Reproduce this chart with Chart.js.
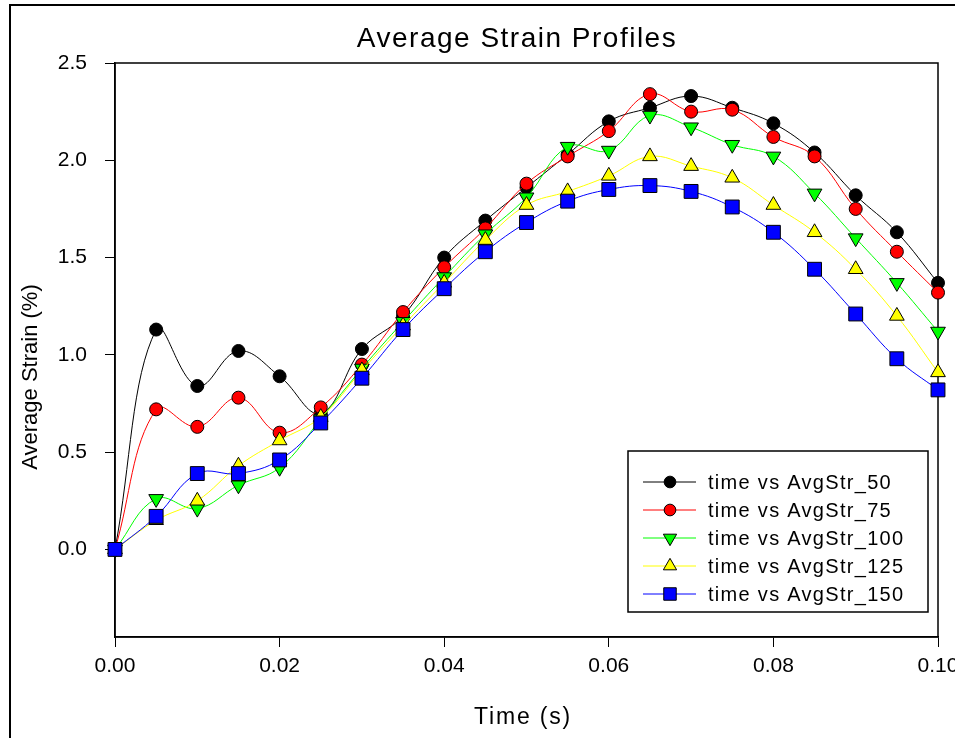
<!DOCTYPE html>
<html>
<head>
<meta charset="utf-8">
<script src="https://cdn.jsdelivr.net/npm/chart.js@4/dist/chart.umd.min.js"></script>
<style>
  html, body { margin: 0; padding: 0; background: #fff; }
  canvas { display: block; }
</style>
</head>
<body>
<canvas id="chart" width="955" height="738"></canvas>
<script>
// time (s)
const times = [0, 0.005, 0.01, 0.015, 0.02, 0.025, 0.03, 0.035, 0.04, 0.045, 0.05,
               0.055, 0.06, 0.065, 0.07, 0.075, 0.08, 0.085, 0.09, 0.095, 0.1];
// average strain (%) per series
const avgStr50  = [0, 1.13, 0.84, 1.02, 0.89, 0.70, 1.03, 1.20, 1.50, 1.69, 1.86, 2.03, 2.20, 2.27, 2.33, 2.27, 2.19, 2.04, 1.82, 1.63, 1.37];
const avgStr75  = [0, 0.72, 0.63, 0.78, 0.60, 0.73, 0.95, 1.22, 1.45, 1.65, 1.88, 2.02, 2.15, 2.34, 2.25, 2.26, 2.12, 2.02, 1.75, 1.53, 1.32];
const avgStr100 = [0, 0.26, 0.21, 0.33, 0.42, 0.67, 0.93, 1.17, 1.40, 1.62, 1.81, 2.07, 2.05, 2.23, 2.17, 2.08, 2.02, 1.83, 1.60, 1.37, 1.12];
const avgStr125 = [0, 0.15, 0.25, 0.43, 0.56, 0.68, 0.92, 1.15, 1.37, 1.59, 1.77, 1.84, 1.92, 2.02, 1.97, 1.91, 1.77, 1.63, 1.44, 1.20, 0.91];
const avgStr150 = [0, 0.17, 0.39, 0.39, 0.46, 0.65, 0.88, 1.13, 1.34, 1.53, 1.68, 1.79, 1.85, 1.87, 1.84, 1.76, 1.63, 1.44, 1.21, 0.98, 0.82];

const seriesNames = ['time vs AvgStr_50', 'time vs AvgStr_75', 'time vs AvgStr_100', 'time vs AvgStr_125', 'time vs AvgStr_150'];
const seriesData = [avgStr50, avgStr75, avgStr100, avgStr125, avgStr150];
const xTicks = [0, 0.02, 0.04, 0.06, 0.08, 0.1];
const yTicks = [0, 0.5, 1.0, 1.5, 2.0, 2.5];

const colors = ['#000000', '#ff0000', '#00ff00', '#ffff00', '#0000ff'];
const markers = [
  { style: 'circle', radius: 6.5, rotation: 0 },
  { style: 'circle', radius: 6.5, rotation: 0 },
  { style: 'triangle', radius: 8.5, rotation: 180 },
  { style: 'triangle', radius: 8.5, rotation: 0 },
  { style: 'rect', radius: 9.8, rotation: 0 }
];

const FONT = '"Liberation Sans", Arial, sans-serif';

const datasets = seriesData.map((vals, i) => ({
  label: seriesNames[i],
  data: vals.map((v, j) => ({ x: times[j], y: v })),
  borderColor: colors[i],
  backgroundColor: colors[i],
  borderWidth: 1,
  tension: 0.4,
  pointStyle: markers[i].style,
  pointRadius: markers[i].radius,
  pointRotation: markers[i].rotation,
  pointBackgroundColor: colors[i],
  pointBorderColor: '#000',
  pointBorderWidth: 1,
  order: 4 - i,
  clip: false
}));

function spacedText(ctx, text, x, y, spacing) {
  ctx.letterSpacing = spacing + 'px';
  ctx.fillText(text, x, y);
  ctx.letterSpacing = '0px';
}

const decor = {
  id: 'decor',
  beforeDatasetsDraw(chart) {
    const { ctx, chartArea: a } = chart;
    ctx.save();
    ctx.strokeStyle = '#000';
    ctx.lineWidth = 1.5;
    ctx.strokeRect(a.left, a.top, a.right - a.left, a.bottom - a.top);
    ctx.restore();
  },
  afterDraw(chart) {
    const { ctx } = chart;
    ctx.save();
    // outer frame (left and top edges visible)
    ctx.strokeStyle = '#000';
    ctx.lineWidth = 2;
    ctx.beginPath();
    ctx.moveTo(10, 738);
    ctx.lineTo(10, 5);
    ctx.lineTo(955, 5);
    ctx.stroke();

    ctx.fillStyle = '#000';
    ctx.textBaseline = 'alphabetic';
    ctx.textAlign = 'center';
    ctx.font = '28px ' + FONT;
    spacedText(ctx, 'Average Strain Profiles', 517, 47, 1.5);

    ctx.font = '23px ' + FONT;
    spacedText(ctx, 'Time (s)', 523, 724, 1.8);

    ctx.save();
    ctx.translate(37, 377);
    ctx.rotate(-Math.PI / 2);
    ctx.font = '22px ' + FONT;
    spacedText(ctx, 'Average Strain (%)', 0, 0, 0);
    ctx.restore();

    // legend
    const lx = 628, ly = 451, lw = 300, lh = 161;
    ctx.fillStyle = '#fff';
    ctx.fillRect(lx, ly, lw, lh);
    ctx.strokeStyle = '#000';
    ctx.lineWidth = 1.5;
    ctx.strokeRect(lx, ly, lw, lh);
    ctx.textAlign = 'left';
    ctx.font = '20px ' + FONT;
    chart.data.datasets.forEach((ds, i) => {
      const y = 482 + i * 28;
      ctx.strokeStyle = ds.borderColor;
      ctx.lineWidth = 1;
      ctx.beginPath();
      ctx.moveTo(643, y);
      ctx.lineTo(696, y);
      ctx.stroke();
      ctx.fillStyle = ds.pointBackgroundColor;
      ctx.strokeStyle = '#000';
      Chart.helpers.drawPoint(ctx, {
        pointStyle: ds.pointStyle, rotation: ds.pointRotation,
        radius: ds.pointRadius * 0.9, borderWidth: 1
      }, 670, y);
      ctx.fillStyle = '#000';
      spacedText(ctx, ds.label, 708, y + 7, 1.3);
    });
    ctx.restore();
  }
};

new Chart(document.getElementById('chart'), {
  type: 'line',
  data: { datasets },
  options: {
    responsive: false,
    animation: false,
    devicePixelRatio: 1,
    layout: { padding: { top: 63, right: 17, left: 0, bottom: 0 } },
    plugins: { legend: { display: false }, tooltip: { enabled: false }, title: { display: false } },
    scales: {
      x: {
        type: 'linear',
        min: 0,
        max: 0.1,
        afterBuildTicks: s => { s.ticks = xTicks.map(v => ({ value: v })); },
        afterFit: s => { s.height = 101; s.paddingLeft = 0; s.paddingRight = 0; },
        ticks: {
          color: '#000',
          font: { family: FONT, size: 21 },
          padding: 7,
          maxRotation: 0,
          callback: v => Number(v).toFixed(2)
        },
        grid: { drawOnChartArea: false, drawTicks: true, tickLength: 10, color: '#000', lineWidth: 1 },
        border: { display: true, color: '#000', width: 1.5 }
      },
      y: {
        type: 'linear',
        min: -0.45,
        max: 2.5,
        afterBuildTicks: s => { s.ticks = yTicks.map(v => ({ value: v })); },
        afterFit: s => { s.width = 115; },
        ticks: {
          color: '#000',
          font: { family: FONT, size: 21 },
          padding: 18,
          callback: v => Number(v).toFixed(1)
        },
        grid: { drawOnChartArea: false, drawTicks: true, tickLength: 10, color: '#000', lineWidth: 1 },
        border: { display: true, color: '#000', width: 1.5 }
      }
    }
  },
  plugins: [decor]
});
</script>
</body>
</html>
